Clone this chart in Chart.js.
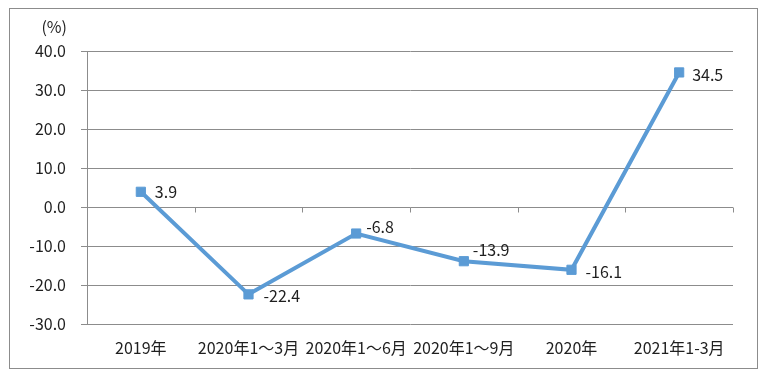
<!DOCTYPE html>
<html>
<head>
<meta charset="utf-8">
<script src="https://cdn.jsdelivr.net/npm/chart.js@4/dist/chart.umd.min.js"></script>
<style>
  html, body { margin: 0; padding: 0; background: #fff; }
  #wrap { width: 768px; height: 379px; position: relative; }
</style>
</head>
<body>
<div id="wrap"><canvas id="chart" width="768" height="379"></canvas></div>
<script>
// categories + values
const categories = ["2019年", "2020年1～3月", "2020年1～6月", "2020年1～9月", "2020年", "2021年1-3月"];
const growth = [3.9, -22.4, -6.8, -13.9, -16.1, 34.5];
const yMin = -30;
const yMax = 40;
const yStep = 10;

// label nudges (px), just style
const labelDx = [14, 15, 10, 9, 14, 13];
const labelDy = [0, 2, -7, -11, 2, 2];

const FONT = '"Noto Sans CJK SC", "Open Sans", sans-serif';
const TEXT = "#1f1f1f";
const GRID = "#8c8c8c";
const BLUE = "#5b9bd5";

// outer frame, unit label, zero-line ticks, value labels
const decor = {
    id: "decor",
    beforeDraw: function (chart) {
        const ctx = chart.ctx;
        ctx.save();
        ctx.fillStyle = "#fff";
        ctx.fillRect(0, 0, chart.width, chart.height);
        ctx.strokeStyle = GRID;
        ctx.lineWidth = 1;
        ctx.strokeRect(9.5, 8.5, 748, 360);
        ctx.restore();
    },
    afterDatasetsDraw: function (chart) {
        const ctx = chart.ctx;
        const x = chart.scales.x;
        const y = chart.scales.y;
        ctx.save();

        // small ticks below the 0 line between categories
        const y0 = Math.round(y.getPixelForValue(0)) + 0.5;
        const half = (x.getPixelForTick(1) - x.getPixelForTick(0)) / 2;
        ctx.strokeStyle = GRID;
        ctx.lineWidth = 1;
        ctx.beginPath();
        for (let i = 0; i < categories.length; i++) {
            const bx = Math.round(x.getPixelForTick(i) + half) + 0.5;
            ctx.moveTo(bx, y0);
            ctx.lineTo(bx, y0 + 5);
        }
        ctx.stroke();

        // (%)
        ctx.fillStyle = TEXT;
        ctx.font = "16px " + FONT;
        ctx.textAlign = "right";
        ctx.textBaseline = "middle";
        ctx.fillText("(%)", 67, 27);

        // value labels
        ctx.textAlign = "left";
        const pts = chart.getDatasetMeta(0).data;
        pts.forEach(function (p, i) {
            ctx.fillText(growth[i].toFixed(1), p.x + labelDx[i], p.y + labelDy[i]);
        });
        ctx.restore();
    }
};

new Chart(document.getElementById("chart").getContext("2d"), {
    type: "line",
    data: {
        labels: categories,
        datasets: [{
            data: growth,
            borderColor: BLUE,
            backgroundColor: BLUE,
            borderWidth: 4,
            pointStyle: "rect",
            pointRadius: 6.5,
            pointBorderWidth: 1,
            pointBorderColor: BLUE,
            pointBackgroundColor: BLUE,
            tension: 0
        }]
    },
    options: {
        responsive: false,
        animation: false,
        events: [],
        layout: { padding: { top: 51, right: 35, bottom: 0, left: 0 } },
        plugins: {
            legend: { display: false },
            tooltip: { enabled: false },
            title: { display: false }
        },
        scales: {
            x: {
                offset: true,
                grid: { display: false, drawTicks: false },
                border: { display: false },
                ticks: {
                    color: TEXT,
                    font: { family: FONT, size: 16 },
                    padding: 14,
                    maxRotation: 0,
                    autoSkip: false
                },
                afterFit: function (s) { s.height = 55; }
            },
            y: {
                min: yMin,
                max: yMax,
                grid: { color: GRID, lineWidth: 1, tickLength: 6, drawTicks: true },
                border: { display: true, color: GRID, width: 1 },
                ticks: {
                    stepSize: yStep,
                    color: TEXT,
                    font: { family: FONT, size: 16 },
                    padding: 15,
                    callback: function (v) { return v.toFixed(1); }
                },
                afterFit: function (s) { s.width = 87; }
            }
        }
    },
    plugins: [decor]
});
</script>
</body>
</html>
